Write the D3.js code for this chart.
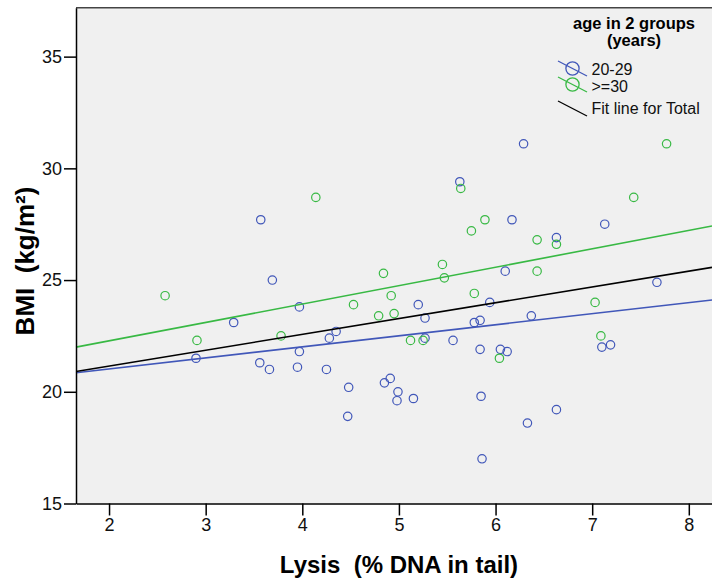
<!DOCTYPE html>
<html lang="en">
<head>
    <meta charset="UTF-8">
    <title>BMI vs Lysis</title>
    <script src="https://d3js.org/d3.v7.min.js"></script>
    <style>
        body { margin: 0; background: #fff; }
        text { font-family: "Liberation Sans", Arial, sans-serif; }
    </style>
</head>
<body>
<script>
// points: [lysis %, BMI]
var young = [
    [2.90,21.5],[3.29,23.1],[3.57,27.7],[3.56,21.3],[3.66,21.0],[3.69,25.0],[3.95,21.1],
    [3.97,23.8],[3.97,21.8],[4.25,21.0],[4.28,22.4],[4.35,22.7],[4.47,18.9],[4.48,20.2],
    [4.85,20.4],[4.91,20.6],[4.98,19.6],[4.99,20.0],[5.15,19.7],[5.20,23.9],[5.27,23.3],
    [5.27,22.4],[5.56,22.3],[5.63,29.4],[5.78,23.1],[5.84,23.2],[5.84,21.9],[5.85,19.8],
    [5.86,17.0],[5.94,24.0],[6.05,21.9],[6.10,25.4],[6.12,21.8],[6.17,27.7],[6.29,31.1],
    [6.33,18.6],[6.37,23.4],[6.63,26.9],[6.63,19.2],[7.10,22.0],[7.13,27.5],[7.19,22.1],
    [7.67,24.9]
];
var older = [
    [2.58,24.3],[2.91,22.3],[3.78,22.5],[4.14,28.7],[4.53,23.9],[4.79,23.4],[4.84,25.3],
    [4.92,24.3],[4.95,23.5],[5.12,22.3],[5.25,22.3],[5.45,25.7],[5.47,25.1],[5.64,29.1],
    [5.75,27.2],[5.78,24.4],[5.89,27.7],[6.04,21.5],[6.43,26.8],[6.43,25.4],[6.63,26.6],
    [7.03,24.0],[7.09,22.5],[7.43,28.7],[7.77,31.1]
];

// fit lines, BMI at the two edges of the x range
var fitX = [1.658, 8.24];
var fitYoung = [20.85, 24.11];
var fitOlder = [22.0, 27.42];
var fitTotal = [20.91, 25.57];

var xTicks = [2, 3, 4, 5, 6, 7, 8];
var yTicks = [15, 20, 25, 30, 35];
var legendLabels = ["20-29", ">=30", "Fit line for Total"];

var blue = "#4157b9", green = "#38b944";

var svg = d3.select("body").append("svg")
    .attr("width", 712)
    .attr("height", 578);

// plot box (note: "top" is taken by window.top)
var pLeft = 76, pTop = 7.7, pBottom = 503.5, pRight = 712;

var x = d3.scaleLinear().domain([fitX[0], fitX[1]]).range([pLeft, pRight]);
var y = d3.scaleLinear().domain([15, 37.19]).range([pBottom, pTop]);

// plot background
svg.append("rect")
    .attr("x", pLeft).attr("y", pTop)
    .attr("width", pRight - pLeft + 2).attr("height", pBottom - pTop)
    .attr("fill", "#f0f0f0");

svg.append("line")
    .attr("x1", pLeft).attr("x2", pRight + 2)
    .attr("y1", pTop).attr("y2", pTop)
    .attr("stroke", "#444").attr("stroke-width", 1.5);

// points
function dots(data, color) {
    svg.append("g").selectAll("circle")
        .data(data)
        .enter()
        .append("circle")
        .attr("cx", d => x(d[0]))
        .attr("cy", d => y(d[1]))
        .attr("r", 4.2)
        .attr("fill", "none")
        .attr("stroke", color)
        .attr("stroke-width", 1.2);
}
dots(young, blue);
dots(older, green);

// fit lines
var line = d3.line().x(d => x(d[0])).y(d => y(d[1]));
function fit(vals, color) {
    svg.append("path")
        .attr("d", line(fitX.map((v, i) => [v, vals[i]])))
        .attr("fill", "none")
        .attr("stroke", color)
        .attr("stroke-width", 1.6);
}
fit(fitYoung, blue);
fit(fitOlder, green);
fit(fitTotal, "#000");

// axes
var yAxis = svg.append("g")
    .attr("transform", "translate(" + pLeft + ",0)")
    .call(d3.axisLeft(y).tickValues(yTicks).tickFormat(d3.format("d"))
        .tickSize(12).tickSizeOuter(0).tickPadding(2));
var xAxis = svg.append("g")
    .attr("transform", "translate(0," + pBottom + ")")
    .call(d3.axisBottom(x).tickValues(xTicks).tickFormat(d3.format("d"))
        .tickSize(12).tickSizeOuter(0).tickPadding(3));

[xAxis, yAxis].forEach(function(g) {
    g.selectAll("path, line").attr("stroke", "#000").attr("stroke-width", 1.5);
    g.selectAll("text").attr("font-size", 18).attr("fill", "#111")
        .style("font-family", "'Liberation Sans', Arial, sans-serif");
});

// axis titles
svg.append("text")
    .attr("x", 399).attr("y", 573)
    .attr("text-anchor", "middle")
    .attr("font-size", 24).attr("font-weight", "bold")
    .style("white-space", "pre")
    .text("Lysis  (% DNA in tail)");

svg.append("text")
    .attr("transform", "translate(34,261) rotate(-90)")
    .attr("text-anchor", "middle")
    .attr("font-size", 26).attr("font-weight", "bold")
    .style("white-space", "pre")
    .text("BMI  (kg/m²)");

// legend
var lg = svg.append("g");
lg.append("text").attr("x", 634).attr("y", 29)
    .attr("text-anchor", "middle").attr("font-size", 16.5).attr("font-weight", "bold")
    .text("age in 2 groups");
lg.append("text").attr("x", 634).attr("y", 46)
    .attr("text-anchor", "middle").attr("font-size", 16.5).attr("font-weight", "bold")
    .text("(years)");

var legendRows = [
    {label: legendLabels[0], color: blue, cy: 68.5, base: 74.5, circle: true},
    {label: legendLabels[1], color: green, cy: 84.5, base: 92, circle: true},
    {label: legendLabels[2], color: "#000", cy: 108.5, base: 113.5, circle: false}
];
legendRows.forEach(function(r) {
    lg.append("line")
        .attr("x1", 558).attr("y1", r.cy - 7.5)
        .attr("x2", 587).attr("y2", r.cy + 7.5)
        .attr("stroke", r.color).attr("stroke-width", 1.3);
    if (r.circle) {
        lg.append("circle")
            .attr("cx", 572.5).attr("cy", r.cy).attr("r", 6.6)
            .attr("fill", "none").attr("stroke", r.color).attr("stroke-width", 1.3);
    }
    lg.append("text")
        .attr("x", 591.5).attr("y", r.base)
        .attr("font-size", 16).attr("fill", "#111")
        .text(r.label);
});
</script>
</body>
</html>
